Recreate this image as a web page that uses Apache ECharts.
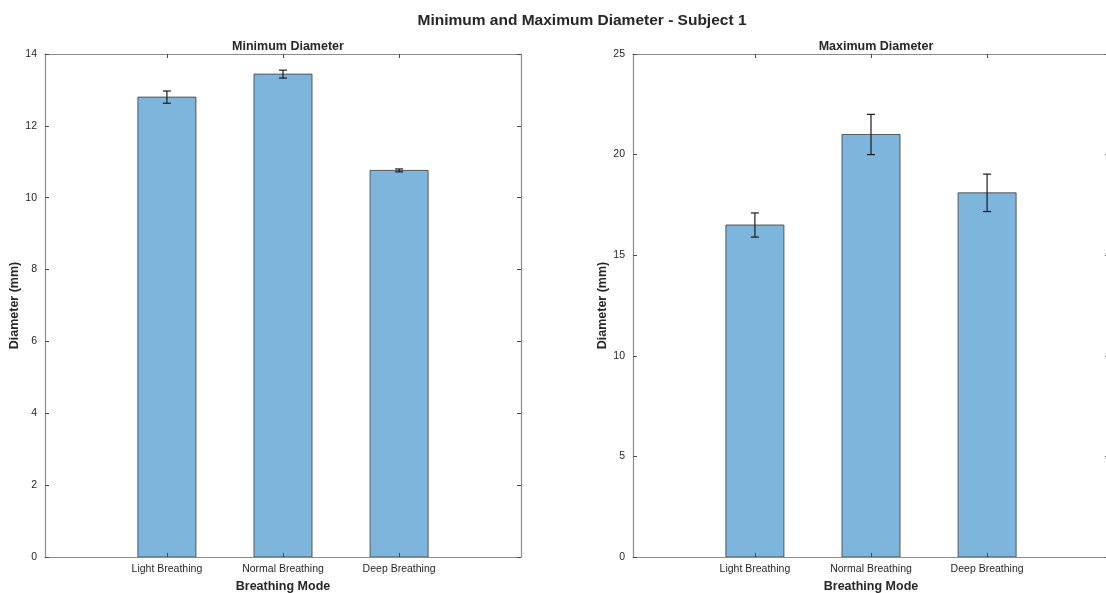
<!DOCTYPE html>
<html>
<head>
<meta charset="utf-8">
<script src="https://cdn.jsdelivr.net/npm/echarts@6/dist/echarts.min.js"></script>
<style>
  html, body { margin: 0; padding: 0; background: #ffffff; }
  #chart { width: 1106px; height: 593px; }
</style>
</head>
<body>
<div id="chart"></div>
<script>
// Breathing modes and per-mode diameter means with their error half-widths (mm)
const modes = ['Light Breathing', 'Normal Breathing', 'Deep Breathing'];
const minMean = [12.8, 13.44, 10.76];
const minErr = [0.17, 0.11, 0.04];
const maxMean = [16.5, 21.0, 18.1];
const maxErr = [0.6, 1.0, 0.93];
const minTicks = [0, 2, 4, 6, 8, 10, 12, 14];
const maxTicks = [0, 5, 10, 15, 20, 25];
const modePos = [1, 2, 3];

const FONT = '"Liberation Sans", Arial, Helvetica, sans-serif';
const AXIS_COLOR = '#8c8c8c';
const TICK_COLOR = '#4a4a4a';
const TEXT_COLOR = '#262626';
const BAR_FILL = '#7eb5dc';
const BAR_EDGE = '#3a3a3a';

const chart = echarts.init(document.getElementById('chart'), null, { renderer: 'canvas' });

function rows(means, errs) {
  return modePos.map((p, i) => [p, means[i], errs[i]]);
}

function renderBar(params, api) {
  const x = api.value(0), y = api.value(1);
  const top = api.coord([x, y]);
  const base = api.coord([x, 0]);
  const w = api.size([0.5, 0])[0];
  return {
    type: 'rect',
    shape: { x: top[0] - w / 2, y: top[1], width: w, height: base[1] - top[1] },
    style: { fill: BAR_FILL, stroke: BAR_EDGE, lineWidth: 0.8 }
  };
}

function renderErr(params, api) {
  const x = api.value(0), y = api.value(1), e = api.value(2);
  const hi = api.coord([x, y + e]);
  const lo = api.coord([x, y - e]);
  const cap = 4;
  const st = { stroke: '#1a1a1a', lineWidth: 1.2 };
  return {
    type: 'group',
    children: [
      { type: 'line', shape: { x1: hi[0], y1: hi[1], x2: lo[0], y2: lo[1] }, style: st },
      { type: 'line', shape: { x1: hi[0] - cap, y1: hi[1], x2: hi[0] + cap, y2: hi[1] }, style: st },
      { type: 'line', shape: { x1: lo[0] - cap, y1: lo[1], x2: lo[0] + cap, y2: lo[1] }, style: st }
    ]
  };
}

function xAxes(gridIndex) {
  const common = {
    type: 'value', gridIndex, min: -0.05, max: 4.05, z: 10,
    splitLine: { show: false },
    axisLine: { show: true, onZero: false, lineStyle: { color: AXIS_COLOR, width: 1.2 } },
    axisTick: { show: true, inside: true, length: 4, customValues: modePos, lineStyle: { color: TICK_COLOR } }
  };
  return [
    Object.assign({}, common, {
      position: 'bottom',
      name: 'Breathing Mode', nameLocation: 'middle', nameGap: 21,
      nameTextStyle: { fontFamily: FONT, fontWeight: 'bold', fontSize: 12.5, color: TEXT_COLOR },
      axisLabel: {
        show: true, margin: 7, customValues: modePos,
        formatter: v => modes[Math.round(v) - 1] || '',
        fontFamily: FONT, fontSize: 10.5, color: TEXT_COLOR
      }
    }),
    Object.assign({}, common, {
      position: 'top',
      axisLabel: { show: false }
    })
  ];
}

function yAxes(gridIndex, max, step, ticks) {
  const common = {
    type: 'value', gridIndex, min: 0, max, interval: step, z: 10,
    splitLine: { show: false },
    axisLine: { show: true, onZero: false, lineStyle: { color: AXIS_COLOR, width: 1.2 } },
    axisTick: { show: true, inside: true, length: 4, customValues: ticks, lineStyle: { color: TICK_COLOR } }
  };
  return [
    Object.assign({}, common, {
      position: 'left',
      name: 'Diameter (mm)', nameLocation: 'middle', nameGap: 20,
      nameTextStyle: { fontFamily: FONT, fontWeight: 'bold', fontSize: 12.5, color: TEXT_COLOR },
      axisLabel: {
        margin: 8, fontFamily: FONT, fontSize: 10.5, color: TEXT_COLOR,
        customValues: ticks
      }
    }),
    Object.assign({}, common, {
      position: 'right',
      axisLabel: { show: false }
    })
  ];
}

const option = {
  backgroundColor: '#ffffff',
  animation: false,
  title: [
    {
      text: 'Minimum and Maximum Diameter - Subject 1',
      left: 577, top: 8, textAlign: 'center',
      textStyle: { fontFamily: FONT, fontWeight: 'bold', fontSize: 15.5, color: TEXT_COLOR }
    },
    {
      text: 'Minimum Diameter',
      left: 283, top: 35, textAlign: 'center',
      textStyle: { fontFamily: FONT, fontWeight: 'bold', fontSize: 12.5, color: TEXT_COLOR }
    },
    {
      text: 'Maximum Diameter',
      left: 871, top: 35, textAlign: 'center',
      textStyle: { fontFamily: FONT, fontWeight: 'bold', fontSize: 12.5, color: TEXT_COLOR }
    }
  ],
  grid: [
    { left: 45, top: 54, width: 476, height: 503, outerBoundsMode: 'none', containLabel: false },
    { left: 633, top: 54, width: 476, height: 503, outerBoundsMode: 'none', containLabel: false }
  ],
  xAxis: [].concat(xAxes(0), xAxes(1)),
  yAxis: [].concat(yAxes(0, 14, 2, minTicks), yAxes(1, 25, 5, maxTicks)),
  series: [
    { type: 'custom', xAxisIndex: 0, yAxisIndex: 0, renderItem: renderBar, data: rows(minMean, minErr), encode: { x: 0, y: 1 }, clip: false },
    { type: 'custom', xAxisIndex: 0, yAxisIndex: 0, renderItem: renderErr, data: rows(minMean, minErr), encode: { x: 0, y: [1] }, z: 5 },
    { type: 'custom', xAxisIndex: 2, yAxisIndex: 2, renderItem: renderBar, data: rows(maxMean, maxErr), encode: { x: 0, y: 1 }, clip: false },
    { type: 'custom', xAxisIndex: 2, yAxisIndex: 2, renderItem: renderErr, data: rows(maxMean, maxErr), encode: { x: 0, y: [1] }, z: 5 }
  ]
};

chart.setOption(option);
</script>
</body>
</html>
